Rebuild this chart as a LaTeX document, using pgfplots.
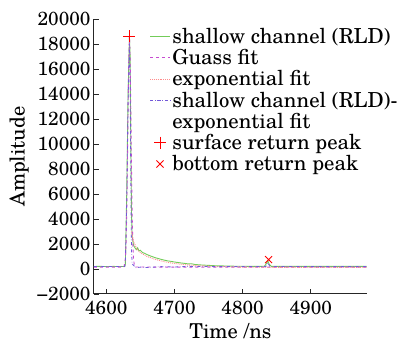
\documentclass[border=0pt]{standalone}
\usepackage{fontspec}
\setmainfont{TeX Gyre Schola}
\usepackage{pgfplots}
\pgfplotsset{compat=1.18}
\definecolor{cgreen}{rgb}{0.45,0.80,0.35}
\definecolor{cgauss}{rgb}{0.78,0.30,0.82}
\definecolor{cexp}{rgb}{1.00,0.55,0.55}
\definecolor{cres}{rgb}{0.45,0.35,0.85}
\begin{document}
\begin{tikzpicture}[font=\fontsize{19}{21}\selectfont]
\useasboundingbox (-94pt,-46pt) rectangle (303pt,294pt);
\begin{axis}[
  at={(0pt,0pt)}, anchor=south west,
  scale only axis, width=272.7pt, height=275pt,
  xmin=4582, xmax=4982, ymin=-2000, ymax=20000,
  axis x line*=bottom, axis y line*=left,
  axis line style={line width=1pt, black!85},
  tick align=inside, major tick length=5pt,
  tick style={line width=0.8pt, black!85},
  scaled y ticks=false, scaled x ticks=false,
  xtick={4600,4700,4800,4900},
  ytick={-2000,0,2000,4000,6000,8000,10000,12000,14000,16000,18000,20000},
  yticklabels={−2000,0,2000,4000,6000,8000,10000,12000,14000,16000,18000,20000},
  xticklabels={4600,4700,4800,4900},
  xticklabel style={yshift=-4pt},
  xlabel={Time /ns}, ylabel={Amplitude},
  label style={font=\fontsize{20.5}{22}\selectfont},
  ylabel style={yshift=1pt},
  xlabel style={yshift=-1pt},
  legend cell align=left,
  legend style={draw=none, fill=none, at={(0.203,0.975)}, anchor=north west,
    row sep=0.5pt, inner sep=0pt, font=\fontsize{20.7}{22}\selectfont,
    legend image code/.code={\draw[mark repeat=2,mark phase=2,#1] plot coordinates {(0pt,0pt) (10pt,0pt) (20pt,0pt)};}},
]
\addplot[cgreen, line width=0.9pt] coordinates {
(4582,200)(4590,210)(4600,195)(4610,205)(4620,200)(4627,205)(4628,400)(4630,6000)(4632,14000)(4634,18600)(4635,17000)(4636,10000)(4637,4500)(4638,2600)(4640,1900)(4642,1700)(4644,1550)(4646,1700)(4648,1450)(4650,1500)(4653,1320)(4656,1260)(4660,1150)(4664,1060)(4668,980)(4672,900)(4676,840)(4680,780)(4685,710)(4690,650)(4695,610)(4700,560)(4705,520)(4710,480)(4715,450)(4720,410)(4725,420)(4730,360)(4740,320)(4750,290)(4760,260)(4775,240)(4790,220)(4810,215)(4825,210)(4832,220)(4835,450)(4837,650)(4839,380)(4842,215)(4860,210)(4880,205)(4900,210)(4920,205)(4940,210)(4960,205)(4982,210)};
\addlegendentry{shallow channel (RLD)}
\addplot[cgauss, dashed, line width=0.9pt] coordinates {
(4582,150)(4626,150)(4628,810)(4629,1930)(4630,4250)(4631,8060)(4632,12800)(4633,16950)(4634,18600)(4635,16950)(4636,12800)(4637,8060)(4638,4250)(4639,1930)(4640,810)(4641,370)(4642,160)(4700,150)(4800,150)(4982,150)};
\addlegendentry{Guass fit}
\addplot[cexp, densely dotted, line width=0.9pt] coordinates {
(4637,3000)(4640,2200)(4645,1600)(4650,1300)(4660,1000)(4670,800)(4680,650)(4690,530)(4700,440)(4720,320)(4740,250)(4760,200)(4800,150)(4850,130)(4900,120)(4982,120)};
\addlegendentry{exponential fit}
\addplot[cres, dashdotted, line width=0.8pt] coordinates {
(4582,200)(4627,200)(4628,400)(4630,5500)(4632,13500)(4634,18000)(4635,15000)(4636,7000)(4637,1500)(4638,400)(4640,300)(4643,100)(4650,150)(4660,120)(4670,150)(4680,190)(4700,160)(4720,210)(4760,190)(4800,200)(4834,200)(4837,500)(4840,200)(4900,190)(4982,190)};
\addlegendentry{shallow channel (RLD)-}
\addlegendimage{empty legend}
\addlegendentry{exponential fit}
\addplot[only marks, red, mark=+, mark size=6pt, line width=0.9pt] coordinates {(4634,18600)};
\addlegendentry{surface return peak}
\addplot[only marks, red, mark=x, mark size=5pt, line width=0.9pt] coordinates {(4838,750)};
\addlegendentry{bottom return peak}
\end{axis}
\end{tikzpicture}
\end{document}
